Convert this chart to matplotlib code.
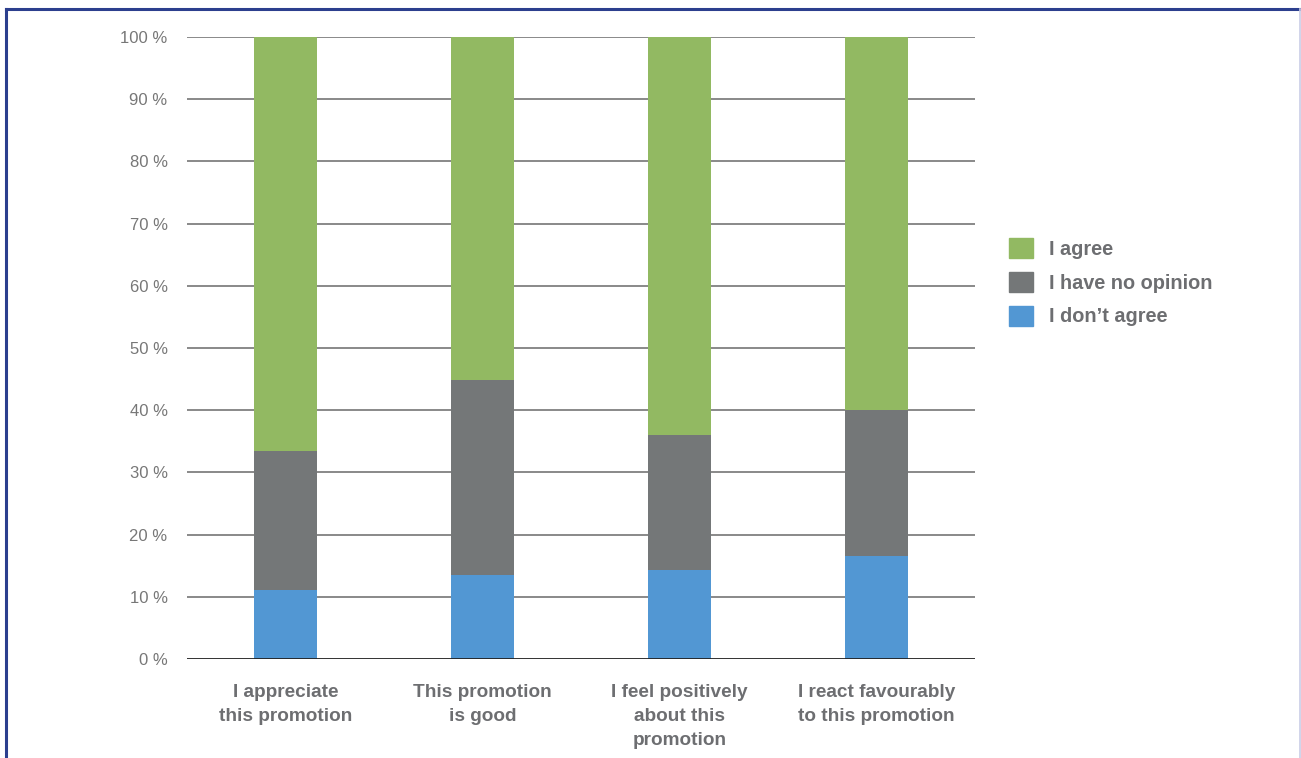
import matplotlib.pyplot as plt
from matplotlib.lines import Line2D
from matplotlib.patches import Patch

plt.rcParams['font.family'] = ['Liberation Sans', 'DejaVu Sans']

# survey answers, share of respondents in %
statements = ["I appreciate\nthis promotion", "This promotion\nis good",
              "I feel positively\nabout this\npromotion", "I react favourably\nto this promotion"]
dont_agree = [11.1, 13.5, 14.3, 16.6]
no_opinion = [22.3, 31.4, 21.7, 23.4]
agree = [66.6, 55.1, 64.0, 60.0]

green = '#92b962'
grey = '#747778'
blue = '#5297d3'
text_grey = '#6d6e71'

W, H = 1301, 758
fig = plt.figure(figsize=(W / 100, H / 100), dpi=100)
ax = fig.add_axes([187 / W, 1 - 659 / H, (975 - 187) / W, (659 - 37) / H])

x = range(len(statements))
width = 0.315
ax.bar(x, dont_agree, width, color=blue, zorder=3, label="I don\u2019t agree")
bottom2 = [d for d in dont_agree]
ax.bar(x, no_opinion, width, bottom=bottom2, color=grey, zorder=3, label="I have no opinion")
bottom3 = [d + n for d, n in zip(dont_agree, no_opinion)]
ax.bar(x, agree, width, bottom=bottom3, color=green, zorder=3, label="I agree")

ax.set_xlim(-0.5, 3.5)
ax.set_ylim(0, 100)
ax.set_yticks(range(0, 101, 10))
ax.set_yticklabels([f"{v} %" for v in range(0, 101, 10)])
for v in range(10, 101, 10):
    ax.axhline(v, color='#6a6a6a', lw=1.1, zorder=1)
ax.axhline(0, color='#222222', lw=1.3, zorder=4)

for s in ax.spines.values():
    s.set_visible(False)
ax.tick_params(axis='y', length=0, pad=14, labelsize=12, labelcolor='#777777')
ax.tick_params(axis='x', length=0, pad=18)
ax.set_xticks(list(x))
ax.set_xticklabels(statements, fontsize=13.7, fontweight='bold', color=text_grey,
                   linespacing=1.55)

handles = [Patch(color=green), Patch(color=grey), Patch(color=blue)]
leg = fig.legend(handles, ["I agree", "I have no opinion", "I don\u2019t agree"],
                 loc='upper left', bbox_to_anchor=(1009 / W, 1 - 238 / H),
                 frameon=False, prop={'size': 14.3, 'weight': 'bold'},
                 handlelength=1.2, handleheight=1.2, handletextpad=0.8,
                 labelspacing=0.65, borderpad=0, borderaxespad=0)
for t in leg.get_texts():
    t.set_color(text_grey)

# frame around the figure
fig.add_artist(Line2D([6 / W, 6 / W], [0, 1 - 9 / H], color='#2c3f8e', lw=2.2))
fig.add_artist(Line2D([6 / W, 1], [1 - 9 / H, 1 - 9 / H], color='#2c3f8e', lw=2.2))
fig.add_artist(Line2D([1299.5 / W, 1299.5 / W], [0, 1 - 9 / H], color='#c9cde6', lw=1.2))

fig.savefig('out.png', dpi=100)
